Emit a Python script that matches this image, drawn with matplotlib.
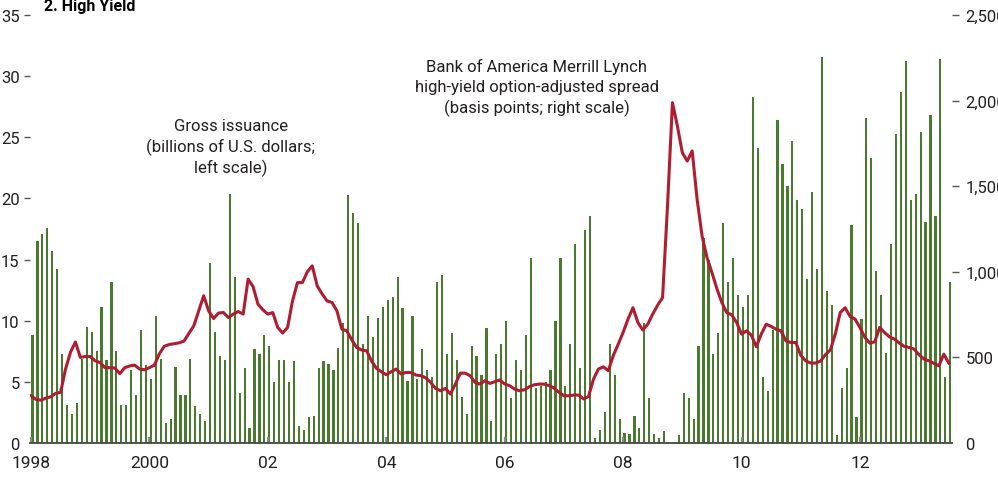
import numpy as np
import matplotlib
matplotlib.use("Agg")
import matplotlib.pyplot as plt
from matplotlib import font_manager

# monthly gross high-yield issuance, billions of U.S. dollars (Jan 1998 - Jul 2013)
issuance = [
    8.8, 16.5, 17.1, 17.6, 15.7, 14.2, 7.3, 3.1, 2.4, 3.3, 6.9, 9.5,      # 1998
    9.1, 7.5, 11.1, 6.8, 13.2, 7.5, 3.1, 3.1, 6.0, 3.9, 9.2, 6.4,         # 1999
    5.2, 10.4, 6.9, 1.6, 2.0, 6.2, 3.9, 3.9, 6.9, 3.0, 2.4, 1.8,          # 2000
    14.7, 9.1, 7.1, 6.8, 20.4, 13.6, 4.1, 6.1, 1.2, 7.7, 7.3, 8.8,        # 2001
    7.9, 5.0, 6.8, 6.8, 5.0, 6.7, 1.4, 1.1, 2.1, 2.2, 6.1, 6.7,           # 2002
    6.5, 6.0, 7.8, 9.8, 20.3, 18.8, 18.0, 8.1, 10.4, 8.7, 10.2, 11.1,     # 2003
    11.7, 11.9, 13.6, 11.0, 5.1, 10.4, 5.2, 7.7, 6.0, 5.4, 13.2, 13.7,    # 2004
    7.3, 9.0, 6.8, 3.8, 2.4, 7.9, 7.1, 5.6, 9.4, 1.8, 7.3, 8.1,           # 2005
    10.0, 3.7, 6.8, 6.0, 8.8, 15.1, 4.5, 4.7, 5.0, 6.0, 10.0, 15.1,       # 2006
    4.7, 8.1, 16.3, 6.1, 17.4, 18.6, 0.4, 1.1, 2.5, 8.1, 5.6, 2.0,        # 2007
    0.8, 0.7, 2.2, 1.2, 9.8, 3.7, 0.7, 0.4, 1.0, 0.0, 0.0, 0.65,          # 2008
    4.1, 3.7, 2.0, 7.9, 16.8, 15.0, 7.3, 9.0, 18.0, 13.2, 15.1, 12.1,     # 2009
    11.1, 12.1, 28.3, 24.1, 5.4, 4.25, 9.2, 26.4, 22.8, 21.0, 24.7, 19.9, # 2010
    19.1, 13.4, 20.5, 14.2, 31.6, 12.4, 11.3, 0.65, 4.5, 6.1, 17.8, 2.1,  # 2011
    10.1, 26.6, 23.3, 14.1, 12.1, 7.4, 16.3, 25.3, 28.7, 31.2, 19.9, 20.4, # 2012
    25.4, 18.1, 26.8, 18.6, 31.4, 5.4, 13.2,                              # 2013
]

# BofA Merrill Lynch high-yield option-adjusted spread, basis points
spread = [
    276, 255, 250, 262, 270, 290, 296, 432, 530, 590, 500, 505,
    505, 480, 470, 440, 440, 438, 405, 440, 450, 455, 432, 428,
    440, 455, 520, 565, 575, 580, 585, 595, 640, 685, 772, 860,
    772, 727, 759, 762, 733, 753, 768, 753, 957, 914, 811, 778,
    753, 762, 675, 642, 675, 830, 937, 937, 1000, 1035, 918, 871,
    830, 821, 772, 665, 655, 603, 558, 543, 539, 480, 436, 416,
    399, 416, 432, 403, 412, 412, 397, 393, 381, 354, 319, 305,
    319, 286, 344, 408, 408, 393, 354, 344, 364, 348, 358, 368,
    345, 335, 315, 305, 311, 329, 340, 344, 344, 335, 321, 296,
    276, 276, 280, 280, 257, 272, 373, 432, 445, 422, 510, 576,
    646, 724, 790, 704, 660, 694, 753, 805, 850, 1385, 1988, 1852,
    1696, 1647, 1706, 1424, 1210, 1083, 996, 902, 821, 762, 749, 704,
    636, 655, 630, 562, 636, 694, 681, 665, 655, 597, 587, 587,
    513, 480, 467, 467, 478, 516, 543, 636, 762, 790, 739, 724,
    675, 617, 583, 591, 675, 645, 620, 607, 583, 564, 558, 548,
    515, 490, 480, 465, 451, 519, 467,
]

year_ticks = [1998, 2000, 2002, 2004, 2006, 2008, 2010, 2012]
year_labels = ["1998", "2000", "02", "04", "06", "08", "10", "12"]
left_ticks = [0, 5, 10, 15, 20, 25, 30, 35]
right_ticks = [0, 500, 1000, 1500, 2000, 2500]
right_labels = ["0", "500", "1,000", "1,500", "2,000", "2,500"]

names = {f.name for f in font_manager.fontManager.ttflist}
if "Liberation Sans Narrow" in names:
    plt.rcParams["font.family"] = ["Liberation Sans Narrow", "DejaVu Sans"]
else:
    plt.rcParams["font.family"] = ["Roboto", "DejaVu Sans"]

txt = "#231f20"
green = "#4a7a30"
red = "#b01c30"

months = np.arange(len(issuance))
x_bar = 1998 + (months + 0.3) / 12.0
x_line = 1998 + np.arange(len(spread)) / 12.0

fig = plt.figure(figsize=(9.98, 4.85), dpi=100)
ax = fig.add_axes([30 / 998, 41 / 485, 921.7 / 998, 428 / 485])
ax.bar(x_bar, issuance, width=2.2 / 59.21, color=green, linewidth=0)
ax.set_xlim(1998 - 1.0 / 59.21, 1998 + 920.7 / 59.21)
ax.set_ylim(0, 35)

ax2 = ax.twinx()
ax2.plot(x_line, spread, color=red, linewidth=2.2, solid_joinstyle="round")
ax2.set_ylim(0, 2500)

for a in (ax, ax2):
    for s in ["top", "left", "right", "bottom"]:
        a.spines[s].set_visible(False)
ax.spines["bottom"].set_visible(True)
ax.spines["bottom"].set_color("#444444")
ax.spines["bottom"].set_linewidth(1.3)

ax.set_xticks(year_ticks)
ax.set_xticklabels(year_labels)
ax.tick_params(axis="x", direction="in", length=4, width=1.6, color="#8a8a8a",
               pad=9, labelsize=12.5, labelcolor=txt)

ax.set_yticks(left_ticks)
ax.set_yticklabels([str(v) for v in left_ticks])
ax.tick_params(axis="y", direction="out", length=4.5, width=1.0, color="#555555",
               pad=3, labelsize=12, labelcolor=txt)
ax.yaxis.get_major_ticks()[0].tick1line.set_visible(False)

ax2.set_yticks(right_ticks)
ax2.set_yticklabels(right_labels)
ax2.tick_params(axis="y", direction="out", length=5, width=1.0, color="#555555",
                pad=5, labelsize=12, labelcolor=txt)
ax2.yaxis.get_major_ticks()[0].tick2line.set_visible(False)

fig.text(44 / 998, 1 - 11.5 / 485, "2. High Yield", fontsize=11.5, fontweight="bold",
         color="black", va="baseline", ha="left")

fig.text(231 / 998, 1 - 148 / 485, "Gross issuance\n(billions of U.S. dollars;\nleft scale)",
         fontsize=12, color=txt, ha="center", va="center", linespacing=1.35)
fig.text(537 / 998, 1 - 88 / 485,
         "Bank of America Merrill Lynch\nhigh-yield option-adjusted spread\n(basis points; right scale)",
         fontsize=12, color=txt, ha="center", va="center", linespacing=1.35)

fig.savefig("out.png", dpi=100)
